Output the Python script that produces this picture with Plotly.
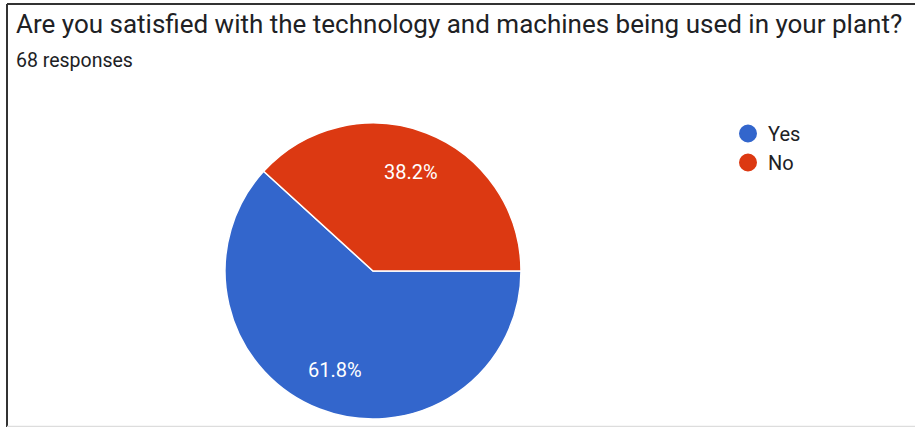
import math
import plotly.graph_objects as go

labels = ["Yes", "No"]
values = [42, 26]
colors = ["#3366cc", "#dc3912"]
title_text = "Are you satisfied with the technology and machines being used in your plant?"
subtitle_text = "68 responses"

W, H = 915, 427
FONT = "Roboto, Arial, sans-serif"

# pie placement (pixels)
cx, cy, r = 373, 271, 148
start_deg = 90  # first slice starts at 3 o'clock, going clockwise

fig = go.Figure()

fig.add_trace(go.Pie(
    labels=labels,
    values=values,
    sort=False,
    direction="clockwise",
    rotation=start_deg,
    marker=dict(colors=colors, line=dict(color="white", width=1.5)),
    textinfo="none",
    showlegend=False,
    hoverinfo="label+percent",
    domain=dict(x=[(cx - r) / W, (cx + r) / W], y=[1 - (cy + r) / H, 1 - (cy - r) / H]),
))

# percentage labels placed along each slice's bisector
total = sum(values)
annotations = []
acc = 0.0
for v in values:
    mid = acc + v / 2
    acc += v
    # angle measured clockwise from 12 o'clock, offset by the start rotation
    theta = math.radians(start_deg + 360 * mid / total)
    px = cx + 0.72 * r * math.sin(theta)
    py = cy - 0.72 * r * math.cos(theta)
    annotations.append(dict(
        text=f"{100 * v / total:.1f}%", x=px / W, y=1 - py / H,
        xref="paper", yref="paper", xanchor="center", yanchor="middle",
        showarrow=False, font=dict(family=FONT, size=20, color="white"),
    ))

# legend entries with round swatches
for lab, col in zip(labels, colors):
    fig.add_trace(go.Scatter(
        x=[None], y=[None], mode="markers", name=lab,
        marker=dict(symbol="circle", size=16, color=col, line=dict(color=col, width=2)),
    ))

annotations += [
    dict(text=title_text, x=14 / W, y=1 - 24 / H, xref="paper", yref="paper",
         xanchor="left", yanchor="middle", showarrow=False,
         font=dict(family=FONT, size=26, color="#202124")),
    dict(text=subtitle_text, x=14 / W, y=1 - 61 / H, xref="paper", yref="paper",
         xanchor="left", yanchor="middle", showarrow=False,
         font=dict(family=FONT, size=19.5, color="#202124")),
]

fig.update_layout(
    width=W, height=H,
    margin=dict(l=0, r=0, t=0, b=0),
    paper_bgcolor="white",
    plot_bgcolor="white",
    xaxis=dict(visible=False),
    yaxis=dict(visible=False),
    legend=dict(
        x=728 / W, y=1 - 114 / H, xanchor="left", yanchor="top",
        font=dict(family=FONT, size=20, color="#202124"),
        itemsizing="trace", tracegroupgap=0,
        bgcolor="rgba(0,0,0,0)",
    ),
    font=dict(family=FONT),
    annotations=annotations,
    shapes=[
        dict(type="line", xref="paper", yref="paper", x0=7 / W, x1=1, y0=1 - 4 / H, y1=1 - 4 / H,
             line=dict(color="#333333", width=2)),
        dict(type="line", xref="paper", yref="paper", x0=7 / W, x1=7 / W, y0=0, y1=1 - 4 / H,
             line=dict(color="#333333", width=2)),
        dict(type="line", xref="paper", yref="paper", x0=7 / W, x1=1, y0=0.5 / H, y1=0.5 / H,
             line=dict(color="#dddddd", width=1.5)),
    ],
)

fig.write_html("out.html")
